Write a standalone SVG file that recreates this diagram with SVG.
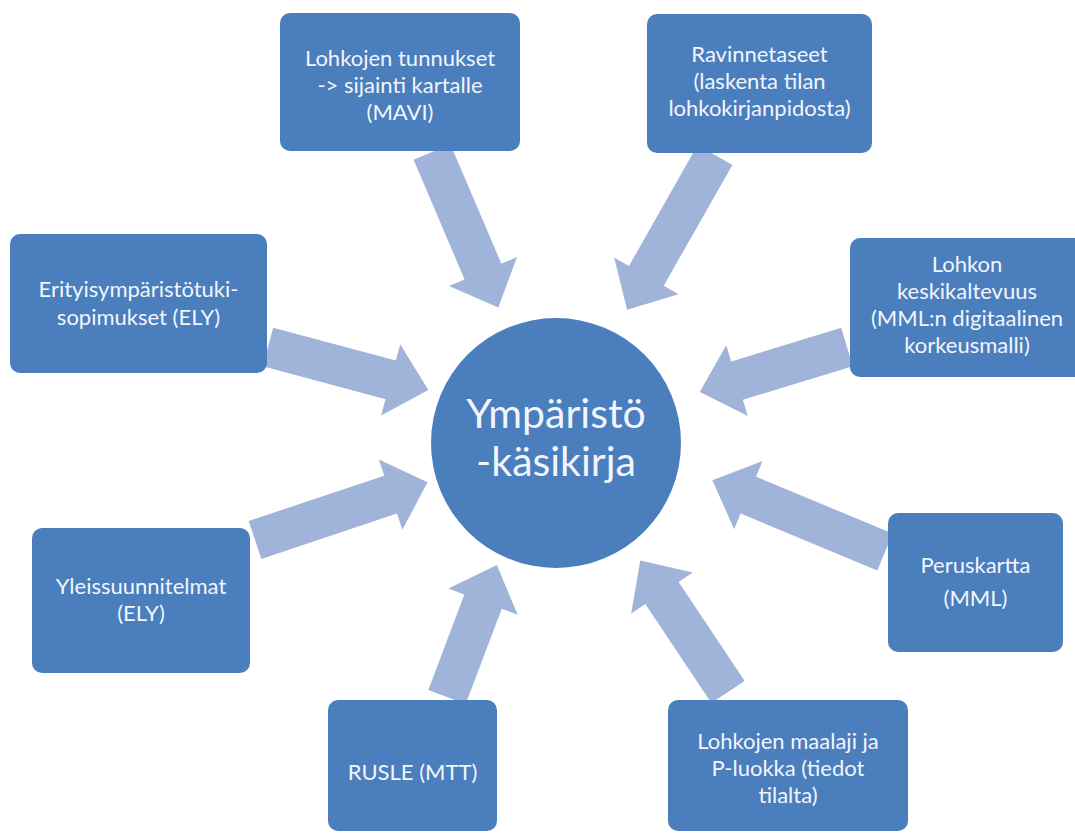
<svg xmlns="http://www.w3.org/2000/svg" width="1075" height="835" viewBox="0 0 1075 835">
<style>
.box{fill:#4a7ebd;}
.arr{fill:#a0b4d9;}
.t{font-family:Lato,"Liberation Sans",sans-serif;font-size:22px;fill:#f2f5fb;text-anchor:middle;}
.c{font-family:Lato,"Liberation Sans",sans-serif;font-size:41px;fill:#f2f5fb;text-anchor:middle;}
</style>
<rect width="1075" height="835" fill="#ffffff"/>
<g id="connectors">
<polygon class="arr" points="0,-20 130,-20 130,-37 169,0 130,37 130,20 0,20" transform="translate(432,152) rotate(66.9)"/>
<polygon class="arr" points="0,-20 139,-20 139,-37 178,0 139,37 139,20 0,20" transform="translate(715,155) rotate(119.6)"/>
<polygon class="arr" points="0,-20 127,-20 127,-37 166,0 127,37 127,20 0,20" transform="translate(268,347) rotate(15)"/>
<polygon class="arr" points="0,-20 115,-20 115,-37 154,0 115,37 115,20 0,20" transform="translate(847,347) rotate(163)"/>
<polygon class="arr" points="0,-20 143,-20 143,-37 182,0 143,37 143,20 0,20" transform="translate(255,540) rotate(-18.5)"/>
<polygon class="arr" points="0,-20 148,-20 148,-37 187,0 148,37 148,20 0,20" transform="translate(885,552) rotate(-157.4)"/>
<polygon class="arr" points="0,-20 102,-20 102,-37 141,0 102,37 102,20 0,20" transform="translate(447,697) rotate(-69.3)"/>
<polygon class="arr" points="0,-20 119,-20 119,-37 158,0 119,37 119,20 0,20" transform="translate(728,692) rotate(-123.7)"/>
</g>
<g id="center">
<circle cx="556" cy="443" r="125" class="box"/>
<text class="c" x="556" y="428">Ympäristö</text>
<text class="c" x="556" y="476">-käsikirja</text>
</g>
<g id="n-tunnukset">
<rect class="box" x="280" y="13" width="240" height="138" rx="10"/>
<text class="t" x="400" y="66">Lohkojen tunnukset</text>
<text class="t" x="400" y="93">-&gt; sijainti kartalle</text>
<text class="t" x="400" y="120">(MAVI)</text>
</g>
<g id="n-ravinnetaseet">
<rect class="box" x="647" y="14" width="225" height="139" rx="10"/>
<text class="t" x="759.5" y="62">Ravinnetaseet</text>
<text class="t" x="759.5" y="89">(laskenta tilan</text>
<text class="t" x="759.5" y="116">lohkokirjanpidosta)</text>
</g>
<g id="n-erityis">
<rect class="box" x="10" y="234" width="257" height="139" rx="10"/>
<text class="t" x="138.5" y="297">Erityisympäristötuki-</text>
<text class="t" x="138.5" y="325">sopimukset (ELY)</text>
</g>
<g id="n-lohkon">
<rect class="box" x="850" y="238" width="234" height="139" rx="10"/>
<text class="t" x="967" y="272">Lohkon</text>
<text class="t" x="967" y="299">keskikaltevuus</text>
<text class="t" x="967" y="326">(MML:n digitaalinen</text>
<text class="t" x="967" y="353">korkeusmalli)</text>
</g>
<g id="n-peruskartta">
<rect class="box" x="888" y="513" width="175" height="139" rx="10"/>
<text class="t" x="975.5" y="573">Peruskartta</text>
<text class="t" x="975.5" y="606">(MML)</text>
</g>
<g id="n-maalaji">
<rect class="box" x="668" y="700" width="240" height="131" rx="10"/>
<text class="t" x="788" y="749">Lohkojen maalaji ja</text>
<text class="t" x="788" y="776">P-luokka (tiedot</text>
<text class="t" x="788" y="803">tilalta)</text>
</g>
<g id="n-rusle">
<rect class="box" x="328" y="700" width="169" height="131" rx="10"/>
<text class="t" x="412.5" y="780">RUSLE (MTT)</text>
</g>
<g id="n-yleis">
<rect class="box" x="32" y="528" width="218" height="145" rx="10"/>
<text class="t" x="141" y="594">Yleissuunnitelmat</text>
<text class="t" x="141" y="621">(ELY)</text>
</g>
</svg>
